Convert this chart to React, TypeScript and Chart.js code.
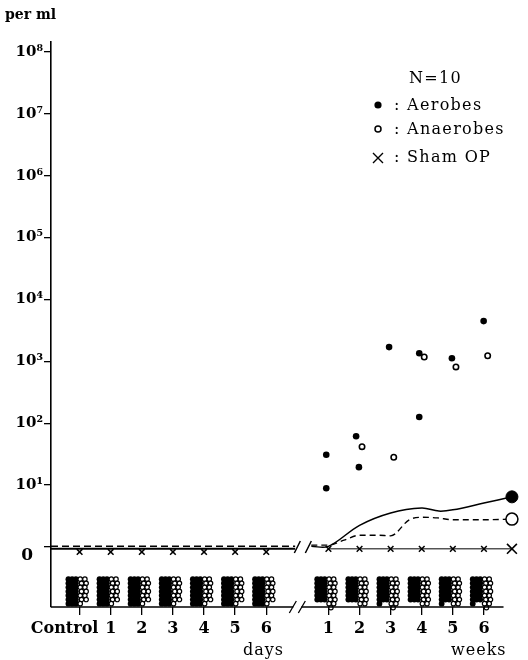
import React, { useEffect, useRef } from "react";
import { Chart, registerables } from "chart.js";

Chart.register(...registerables);

// ---------- categories & ticks ----------
const dayPositions = [0, 1, 2, 3, 4, 5, 6];
const weekPositions = [8, 9, 10, 11, 12, 13];
const endPosition = 13.9;
const breakPosition = 7;
const dayLabels = ["Control", "1", "2", "3", "4", "5", "6"];
const weekLabels = ["1", "2", "3", "4", "5", "6"];
const yTickExponents = [0, 1, 2, 3, 4, 5, 6, 7, 8];
const yTickLabels = ["0", "10¹", "10²", "10³", "10⁴", "10⁵", "10⁶", "10⁷", "10⁸"];

// ---------- individual positive samples (log10 per ml) ----------
const aerobeX = [7.93, 7.93, 8.89, 8.98, 9.95, 10.92, 10.92, 11.97, 12.99];
const aerobeY = [1.49, 0.95, 1.79, 1.29, 3.23, 3.13, 2.1, 3.05, 3.65];
const anaerobeX = [9.08, 10.1, 11.08, 12.1, 13.12];
const anaerobeY = [1.62, 1.45, 3.07, 2.91, 3.09];

// ---------- mean curves ----------
const meanDaysX = [-0.92, 0, 1, 2, 3, 4, 5, 6, 6.93];
const aerobeMeanDaysY = [-0.03, -0.03, -0.03, -0.03, -0.03, -0.03, -0.03, -0.03, -0.03];
const anaerobeMeanDaysY = [0.01, 0.01, 0.01, 0.01, 0.01, 0.01, 0.01, 0.01, 0.01];
const aerobeMeanWeeksX = [7.45, 8, 9, 10, 11, 11.55, 12, 13, 13.9];
const aerobeMeanWeeksY = [0.01, 0.01, 0.35, 0.55, 0.63, 0.58, 0.6, 0.71, 0.81];
const anaerobeMeanWeeksX = [7.45, 8, 8.5, 9, 9.6, 10, 10.6, 11, 11.5, 12, 13, 13.9];
const anaerobeMeanWeeksY = [0.03, 0.03, 0.11, 0.19, 0.19, 0.18, 0.44, 0.48, 0.47, 0.44, 0.44, 0.45];
const aerobeEndY = 0.81;
const anaerobeEndY = 0.45;

// ---------- sham operation ----------
const shamDaysY = [-0.08, -0.08, -0.08, -0.08, -0.08, -0.08, -0.08];
const shamWeeksY = [-0.03, -0.03, -0.03, -0.03, -0.03, -0.03];
const shamEndY = -0.03;

// ---------- undetectable samples shown as clusters under "0" ----------
const clusterPositions = [0, 1, 2, 3, 4, 5, 6, 8, 9, 10, 11, 12, 13];
const clusterFilled = [21, 21, 21, 21, 21, 21, 21, 18, 18, 19, 18, 19, 19];
const clusterOpen = [13, 13, 13, 13, 13, 13, 13, 15, 14, 15, 14, 14, 15];

// cluster glyph layout (axis units)
const C_COL = 0.12;
const C_ROW = 0.066;
const C_TOP = -0.52;

function buildFilled() {
  const pts: { x: number; y: number }[] = [];
  clusterPositions.forEach((p, k) => {
    for (let i = 0; i < clusterFilled[k]; i++) {
      const col = i % 3;
      const row = Math.floor(i / 3);
      pts.push({ x: p - 0.36 + col * C_COL, y: C_TOP - row * C_ROW });
    }
  });
  return pts;
}
function buildOpen() {
  const pts: { x: number; y: number }[] = [];
  clusterPositions.forEach((p, k) => {
    for (let i = 0; i < clusterOpen[k]; i++) {
      if (i < 14) {
        const col = i % 2;
        const row = Math.floor(i / 2);
        pts.push({ x: p + 0.02 + col * 0.15 + (row % 2 ? 0.04 : 0), y: C_TOP - row * C_ROW });
      } else {
        pts.push({ x: p + 0.08, y: C_TOP - 7 * C_ROW });
      }
    }
  });
  return pts;
}

const zip = (xs: number[], ys: number[]) => xs.map((x, i) => ({ x, y: ys[i] }));

const SERIF = "'DejaVu Serif', serif";

const decorPlugin = {
  id: "decor",
  afterDraw(chart: any) {
    const ctx = chart.ctx;
    const xs = chart.scales.x;
    const ys = chart.scales.y;
    const area = chart.chartArea;
    ctx.save();
    ctx.fillStyle = "#000";
    ctx.strokeStyle = "#000";

    // bottom axis with break
    const bx = xs.getPixelForValue(breakPosition);
    const bottom = area.bottom;
    const axisEnd = xs.getPixelForValue(13.63);
    ctx.lineWidth = 1.5;
    ctx.beginPath();
    ctx.moveTo(area.left, bottom);
    ctx.lineTo(bx - 4, bottom);
    ctx.moveTo(bx + 4, bottom);
    ctx.lineTo(axisEnd, bottom);
    ctx.stroke();
    // lower break slashes
    ctx.lineWidth = 1.3;
    ctx.beginPath();
    ctx.moveTo(bx - 8, bottom + 6);
    ctx.lineTo(bx - 1, bottom - 6);
    ctx.moveTo(bx + 1, bottom + 6);
    ctx.lineTo(bx + 8, bottom - 6);
    ctx.stroke();
    // upper break slashes at the zero line
    const zy = ys.getPixelForValue(0);
    ctx.lineWidth = 1.5;
    ctx.beginPath();
    ctx.moveTo(bx - 3, zy + 6);
    ctx.lineTo(bx + 3, zy - 6);
    ctx.moveTo(bx + 8, zy + 6);
    ctx.lineTo(bx + 14, zy - 6);
    ctx.stroke();

    // "0" label
    ctx.font = "bold 17px " + SERIF;
    ctx.textAlign = "right";
    ctx.textBaseline = "middle";
    ctx.fillText(yTickLabels[0], 33, zy + 9);

    // "Control" label
    ctx.font = "bold 16px " + SERIF;
    ctx.textAlign = "center";
    ctx.fillText(dayLabels[0], xs.getPixelForValue(0) - 15, 629);

    // unit labels
    ctx.font = "16px " + SERIF;
    ctx.textAlign = "left";
    (ctx as any).letterSpacing = "1px";
    ctx.fillText("days", 243, 651);
    ctx.fillText("weeks", 451, 651);
    (ctx as any).letterSpacing = "0px";
    ctx.font = "bold 14px " + SERIF;
    ctx.fillText("per ml", 5, 15);

    // legend
    ctx.font = "16px " + SERIF;
    (ctx as any).letterSpacing = "1.3px";
    ctx.fillText("N=10", 409, 79);
    ctx.fillText(": Aerobes", 394, 106);
    ctx.fillText(": Anaerobes", 394, 130);
    ctx.fillText(": Sham OP", 394, 158);
    (ctx as any).letterSpacing = "0px";
    ctx.beginPath();
    ctx.arc(378, 105, 3.6, 0, Math.PI * 2);
    ctx.fill();
    ctx.lineWidth = 1.5;
    ctx.beginPath();
    ctx.arc(378, 129, 3, 0, Math.PI * 2);
    ctx.stroke();
    ctx.lineWidth = 1.4;
    ctx.beginPath();
    ctx.moveTo(373, 153);
    ctx.lineTo(383, 163);
    ctx.moveTo(383, 153);
    ctx.lineTo(373, 163);
    ctx.stroke();
    ctx.restore();
  },
};

export default function App() {
  const ref = useRef<HTMLCanvasElement | null>(null);
  useEffect(() => {
    if (!ref.current) return;
    const black = "#000";
    const chart = new Chart(ref.current, {
      type: "scatter",
      data: {
        datasets: [
          {
            label: "Aerobes overall",
            data: [{ x: endPosition, y: aerobeEndY }],
            pointRadius: 6,
            backgroundColor: black,
            borderColor: black,
            clip: false,
          } as any,
          {
            label: "Anaerobes overall",
            data: [{ x: endPosition, y: anaerobeEndY }],
            pointRadius: 6,
            backgroundColor: "#fff",
            borderColor: black,
            borderWidth: 1.5,
            clip: false,
          },
          {
            label: "Aerobes",
            data: zip(aerobeX, aerobeY),
            pointRadius: 3.3,
            backgroundColor: black,
            borderColor: black,
            borderWidth: 0,
          },
          {
            label: "Anaerobes",
            data: zip(anaerobeX, anaerobeY),
            pointRadius: 2.7,
            backgroundColor: "#fff",
            borderColor: black,
            borderWidth: 1.6,
          },
          {
            label: "Sham OP weeks",
            data: [...zip(weekPositions, shamWeeksY), { x: endPosition, y: shamEndY }],
            showLine: true,
            borderColor: black,
            borderWidth: 1,
            pointStyle: "crossRot",
            pointRadius: (c: any) => (c.dataIndex === weekPositions.length ? 7 : 4),
            pointBorderWidth: (c: any) => (c.dataIndex === weekPositions.length ? 1.6 : 1.5),
            clip: false,
          },
          {
            label: "Sham OP days",
            data: zip(dayPositions, shamDaysY),
            borderColor: black,
            pointStyle: "crossRot",
            pointRadius: 4,
            pointBorderWidth: 1.5,
          },
          {
            label: "Aerobe mean weeks",
            data: zip(aerobeMeanWeeksX, aerobeMeanWeeksY),
            showLine: true,
            tension: 0.35,
            borderColor: black,
            borderWidth: 1.5,
            pointRadius: 0,
          },
          {
            label: "Anaerobe mean weeks",
            data: zip(anaerobeMeanWeeksX, anaerobeMeanWeeksY),
            showLine: true,
            cubicInterpolationMode: "monotone",
            borderColor: black,
            borderWidth: 1.4,
            borderDash: [6, 4],
            pointRadius: 0,
          },
          {
            label: "Aerobe mean days",
            data: zip(meanDaysX, aerobeMeanDaysY),
            showLine: true,
            borderColor: black,
            borderWidth: 2,
            pointRadius: 0,
          },
          {
            label: "Anaerobe mean days",
            data: zip(meanDaysX, anaerobeMeanDaysY),
            showLine: true,
            borderColor: black,
            borderWidth: 1.5,
            borderDash: [7, 4],
            pointRadius: 0,
          },
          {
            label: "Undetected anaerobes",
            data: buildOpen(),
            pointRadius: 2.2,
            backgroundColor: "#fff",
            borderColor: black,
            borderWidth: 1.2,
            clip: false,
          },
          {
            label: "Undetected aerobes",
            data: buildFilled(),
            pointRadius: 2.9,
            backgroundColor: black,
            borderColor: black,
            borderWidth: 0,
            clip: false,
          },
        ],
      },
      options: {
        animation: false,
        responsive: false,
        layout: { padding: { top: 42, right: 4, left: 0, bottom: 0 } },
        plugins: { legend: { display: false }, tooltip: { enabled: false } },
        scales: {
          x: {
            type: "linear",
            min: -0.92,
            max: 14.14,
            afterFit: (s: any) => {
              s.height = 53;
            },
            afterBuildTicks: (s: any) => {
              s.ticks = [...dayPositions, ...weekPositions].map((v) => ({ value: v }));
            },
            border: { display: false },
            grid: {
              drawOnChartArea: false,
              drawTicks: true,
              tickLength: 8,
              color: black,
              lineWidth: 1.3,
            },
            ticks: {
              autoSkip: false,
              maxRotation: 0,
              padding: 4,
              color: black,
              font: { family: SERIF, size: 16, weight: "bold" },
              callback: (v: any) => {
                const di = dayPositions.indexOf(v);
                if (di === 0) return "";
                if (di > 0) return dayLabels[di];
                const wi = weekPositions.indexOf(v);
                return wi >= 0 ? weekLabels[wi] : "";
              },
            },
          },
          y: {
            type: "linear",
            min: -0.97,
            max: 8.16,
            afterFit: (s: any) => {
              s.width = 51;
            },
            afterBuildTicks: (s: any) => {
              s.ticks = yTickExponents.map((v) => ({ value: v }));
            },
            border: { display: true, color: black, width: 1.6 },
            grid: {
              drawOnChartArea: false,
              drawTicks: true,
              tickLength: 7,
              color: black,
              lineWidth: 1.3,
            },
            ticks: {
              padding: 1,
              color: black,
              font: { family: SERIF, size: 15, weight: "bold" },
              callback: (v: any) => {
                const i = yTickExponents.indexOf(v);
                return i > 0 ? yTickLabels[i] : "";
              },
            },
          },
        },
      },
      plugins: [decorPlugin],
    } as any);
    return () => chart.destroy();
  }, []);

  return (
    <div style={{ position: "absolute", left: 0, top: 0, width: 528, height: 660, background: "#fff" }}>
      <canvas ref={ref} width={528} height={660} />
    </div>
  );
}
